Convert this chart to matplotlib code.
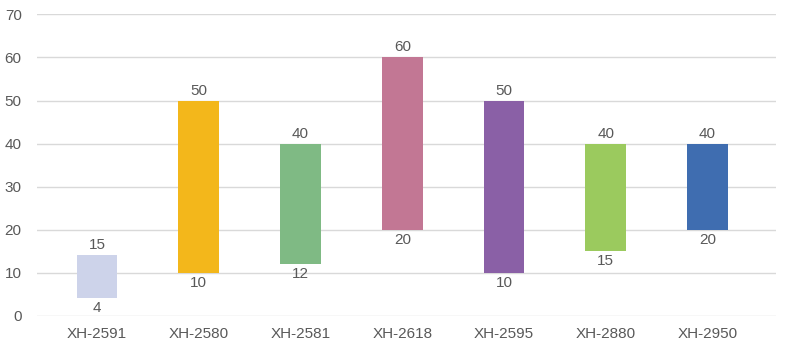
"""
Floating bar chart: XH batches, low/high range
"""
import matplotlib
matplotlib.use('Agg')
import matplotlib.pyplot as plt

# data
CATEGORIES  = ['XH-2591', 'XH-2580', 'XH-2581', 'XH-2618', 'XH-2595', 'XH-2880', 'XH-2950']
LOW_VALUES  = [4, 10, 12, 20, 10, 15, 20]
HIGH_VALUES = [14, 50, 40, 60, 50, 40, 40]
HIGH_LABELS = ['15', '50', '40', '60', '50', '40', '40']
LOW_LABELS  = ['4', '10', '12', '20', '10', '15', '20']

# figure variables
COLOR_LIST = ['#CDD3EA', '#F3B71B', '#7FBA84', '#C27794', '#8A60A6', '#9BCA5E', '#3F6DB0']
TEXT_COLOR = '#595959'
GRID_COLOR = '#D9D9D9'
BAR_WIDTH  = 0.40
FONT_SIZE  = 11

plt.rcParams['font.family'] = ['Liberation Sans', 'DejaVu Sans']

fig = plt.figure(figsize=(7.86, 3.58), dpi=100, facecolor='w')
ax = fig.add_axes([0.047, 0.1187, 0.940, 0.8408])

x = list(range(len(CATEGORIES)))
heights = [h - l for h, l in zip(HIGH_VALUES, LOW_VALUES)]
ax.bar(x, heights, bottom=LOW_VALUES, width=BAR_WIDTH, color=COLOR_LIST, zorder=3)

# value labels
for i in x:
    ax.annotate(HIGH_LABELS[i], (i, HIGH_VALUES[i]), xytext=(0, 10), textcoords='offset pixels',
                ha='center', va='center', fontsize=FONT_SIZE, color=TEXT_COLOR)
    ax.annotate(LOW_LABELS[i], (i, LOW_VALUES[i]), xytext=(0, -10), textcoords='offset pixels',
                ha='center', va='center', fontsize=FONT_SIZE, color=TEXT_COLOR)

# axes setting
ax.set_ylim(0, 70)
ax.set_yticks(range(0, 71, 10))
ax.set_xlim(-0.59, 6.67)
ax.set_xticks(x)
ax.set_xticklabels(CATEGORIES)
ax.grid(axis='y', color=GRID_COLOR, linewidth=1, zorder=0)
for side in ['top', 'right', 'left', 'bottom']:
    ax.spines[side].set_visible(False)
ax.tick_params(axis='both', length=0, labelsize=FONT_SIZE, colors=TEXT_COLOR)
ax.tick_params(axis='y', pad=11)
ax.tick_params(axis='x', pad=8)

plt.savefig('out.png', dpi=100, facecolor='w')
plt.close(fig)
